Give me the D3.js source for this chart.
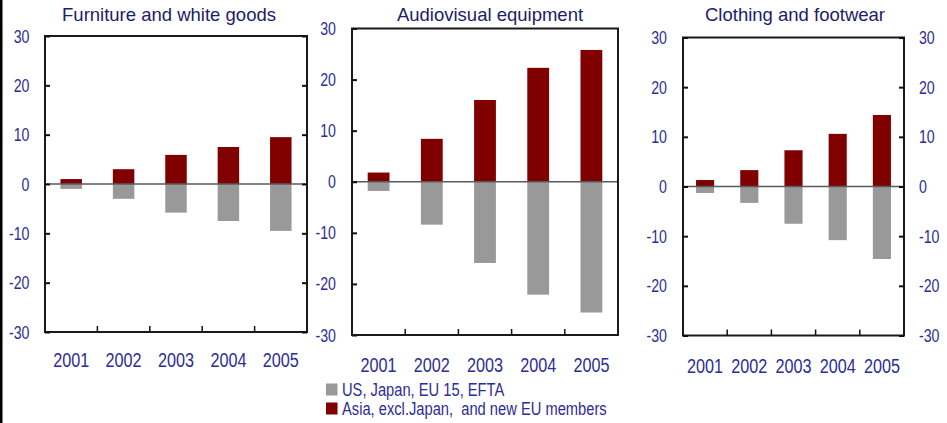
<!DOCTYPE html>
<html><head><meta charset="utf-8">
<script src="https://cdn.jsdelivr.net/npm/d3@7/dist/d3.min.js"></script>
<style>
body{margin:0;background:#fff;}
svg{display:block;}
</style></head>
<body>
<svg id="c" width="947" height="423"></svg>
<script>
const years = ["2001","2002","2003","2004","2005"];
const panelTitles = ["Furniture and white goods","Audiovisual equipment","Clothing and footwear"];
const asiaFurniture = [1.0, 3.0, 5.9, 7.5, 9.5];
const devFurniture = [-1.0, -3.0, -5.8, -7.5, -9.5];
const asiaAudio = [1.8, 8.4, 16.0, 22.3, 25.8];
const devAudio = [-1.8, -8.4, -15.9, -22.1, -25.6];
const asiaClothing = [1.3, 3.3, 7.3, 10.6, 14.4];
const devClothing = [-1.3, -3.3, -7.5, -10.8, -14.6];
const yTicks = [-30, -20, -10, 0, 10, 20, 30];
const legendLabels = ["US, Japan, EU 15, EFTA", "Asia, excl.Japan,  and new EU members"];

const RED = "#800000", GRAY = "#999999";
const LABEL = "#2d2d96", TITLE = "#1c1c6a";
const SANS = "'Liberation Sans',Arial,sans-serif";
const NS = 0.81; // narrow horizontal scale
const svg = d3.select("#c");

function narrow(sel, xf, yf, s) {
  return sel.attr("x",0).attr("y",0)
    .attr("transform",(d,i)=>`translate(${xf(d,i)},${yf(d,i)}) scale(${s||NS},1)`)
    .attr("font-family",SANS);
}

svg.append("rect").attr("x",0).attr("y",0).attr("width",2.5).attr("height",423).attr("fill","#000");

const panels = [
  {title:panelTitles[0], asia:asiaFurniture, dev:devFurniture, x0:45, x1:307, y0:36, y1:332, titleX:169, titleY:21, right:false, rightTicks:true, xlabY:367, ylabX:29.5},
  {title:panelTitles[1], asia:asiaAudio, dev:devAudio, x0:352, x1:618, y0:28.5, y1:335, titleX:490, titleY:21, right:false, rightTicks:false, xlabY:372, ylabX:336},
  {title:panelTitles[2], asia:asiaClothing, dev:devClothing, x0:683, x1:904, y0:37.5, y1:335.5, titleX:795, titleY:21, right:true, rightTicks:true, xlabY:373, ylabX:667}
];

panels.forEach(p => {
  const g = svg.append("g");
  const x = d3.scaleBand().domain(years).range([p.x0, p.x1]).paddingInner(0).paddingOuter(0);
  const y = d3.scaleLinear().domain([-30, 30]).range([p.y1, p.y0]);
  const bw = x.bandwidth()*0.41;

  g.selectAll(".dev").data(p.dev).join("rect")
    .attr("x",(d,i)=>x(years[i])+x.bandwidth()/2-bw/2)
    .attr("y",y(0)).attr("width",bw).attr("height",d=>y(d)-y(0)).attr("fill",GRAY);
  g.selectAll(".asia").data(p.asia).join("rect")
    .attr("x",(d,i)=>x(years[i])+x.bandwidth()/2-bw/2)
    .attr("y",d=>y(d)).attr("width",bw).attr("height",d=>y(0)-y(d)).attr("fill",RED);

  g.append("line").attr("x1",p.x0).attr("x2",p.x1).attr("y1",y(0)).attr("y2",y(0))
    .attr("stroke","#5a5a5a").attr("stroke-width",1.5);

  g.append("rect").attr("x",p.x0).attr("y",p.y0).attr("width",p.x1-p.x0).attr("height",p.y1-p.y0)
    .attr("fill","none").attr("stroke","#1a1a1a").attr("stroke-width",2);

  const la = d3.axisRight(y).tickValues(yTicks).tickSize(5).tickFormat("");
  const lg = g.append("g").attr("transform",`translate(${p.x0},0)`).call(la);
  lg.select(".domain").remove();
  lg.selectAll("line").attr("stroke","#111").attr("stroke-width",2);
  if (p.rightTicks) {
    const ra = d3.axisLeft(y).tickValues(yTicks).tickSize(5).tickFormat("");
    const rg = g.append("g").attr("transform",`translate(${p.x1},0)`).call(ra);
    rg.select(".domain").remove();
    rg.selectAll("line").attr("stroke","#111").attr("stroke-width",2);
  }
  narrow(g.selectAll(".yl").data(yTicks).join("text"), ()=>p.ylabX, d=>y(d)+6.5)
    .attr("text-anchor","end").attr("font-size",17.5).attr("fill",LABEL).text(d=>d);
  if (p.right) {
    narrow(g.selectAll(".yr").data(yTicks).join("text"), ()=>919, d=>y(d)+6.5)
      .attr("text-anchor","start").attr("font-size",17.5).attr("fill",LABEL).text(d=>d);
  }

  g.selectAll(".xt").data(years.slice(1)).join("line")
    .attr("x1",d=>x(d)).attr("x2",d=>x(d)).attr("y1",p.y1).attr("y2",p.y1-6)
    .attr("stroke","#111").attr("stroke-width",1.5);
  narrow(g.selectAll(".xl").data(years).join("text"), d=>x(d)+x.bandwidth()/2, ()=>p.xlabY)
    .attr("text-anchor","middle").attr("font-size",20).attr("fill",LABEL).text(d=>d);

  g.append("text").attr("x",p.titleX).attr("y",p.titleY).attr("text-anchor","middle")
    .attr("font-family",SANS).attr("font-size",18.5)
    .attr("fill",TITLE).text(p.title);
});

const lgItems = [{c:GRAY,t:legendLabels[0],y:383.5},{c:RED,t:legendLabels[1],y:402.5}];
const leg = svg.append("g");
leg.selectAll("rect").data(lgItems).join("rect")
  .attr("x",326).attr("y",d=>d.y).attr("width",11.5).attr("height",12).attr("fill",d=>d.c);
narrow(leg.selectAll("text").data(lgItems).join("text"), ()=>342, d=>d.y+12, 0.84)
  .attr("font-size",17.5).attr("fill",LABEL).style("white-space","pre").text(d=>d.t);
</script>
</body></html>
